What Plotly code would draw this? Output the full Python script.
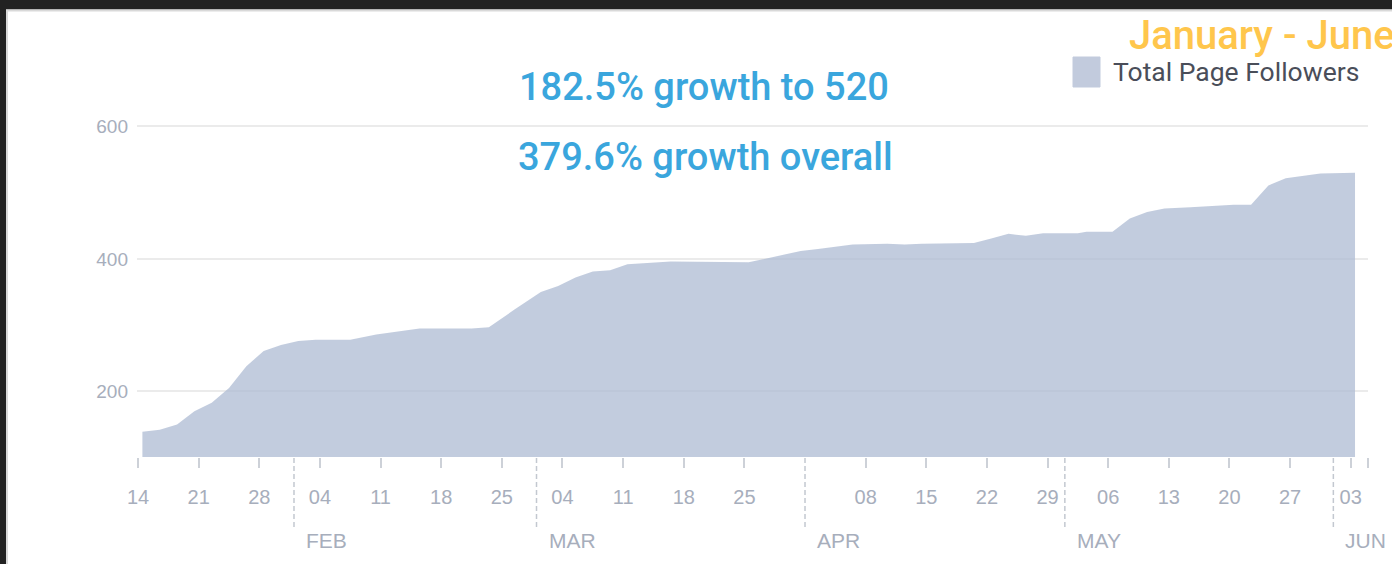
import pandas as pd
import plotly.graph_objects as go

# ---------------- data ----------------
dates = [
    "2018-01-14", "2018-01-16", "2018-01-18", "2018-01-20", "2018-01-22", "2018-01-24",
    "2018-01-26", "2018-01-28", "2018-01-30", "2018-02-01", "2018-02-03", "2018-02-07",
    "2018-02-10", "2018-02-13", "2018-02-15", "2018-02-21", "2018-02-23", "2018-02-26",
    "2018-03-01", "2018-03-03", "2018-03-05", "2018-03-07", "2018-03-09", "2018-03-11",
    "2018-03-14", "2018-03-16", "2018-03-25", "2018-03-28", "2018-03-31", "2018-04-02",
    "2018-04-04", "2018-04-06", "2018-04-10", "2018-04-12", "2018-04-14", "2018-04-20",
    "2018-04-22", "2018-04-24", "2018-04-26", "2018-04-28", "2018-05-02", "2018-05-03",
    "2018-05-06", "2018-05-08", "2018-05-10", "2018-05-12", "2018-05-15", "2018-05-20",
    "2018-05-22", "2018-05-24", "2018-05-26", "2018-05-30", "2018-06-03",
]
followers = [
    139, 142, 150, 170, 183, 205,
    238, 261, 270, 276, 278, 278,
    286, 292, 295, 295, 297, 324,
    350, 359, 372, 381, 383, 392,
    395, 396, 395, 403, 412, 415,
    419, 422, 423, 422, 423, 424,
    431, 438, 435, 439, 439, 441,
    441, 461, 471, 476, 478, 482,
    482, 511, 522, 529, 530,
]
series_name = "Total Page Followers"

tick_dates = [
    "2018-01-14", "2018-01-21", "2018-01-28", "2018-02-04", "2018-02-11", "2018-02-18",
    "2018-02-25", "2018-03-04", "2018-03-11", "2018-03-18", "2018-03-25", "2018-04-08",
    "2018-04-15", "2018-04-22", "2018-04-29", "2018-05-06", "2018-05-13", "2018-05-20",
    "2018-05-27", "2018-06-03", "2018-06-05",
]
tick_labels = [
    "14", "21", "28", "04", "11", "18",
    "25", "04", "11", "18", "25", "08",
    "15", "22", "29", "06", "13", "20",
    "27", "03", "",
]
month_starts = ["2018-02-01", "2018-03-01", "2018-04-01", "2018-05-01", "2018-06-01"]
month_labels = ["FEB", "MAR", "APR", "MAY", "JUN"]
y_ticks = [200, 400, 600]

headline_1 = "182.5% growth to 520"
headline_2 = "379.6% growth overall"
period_label = "January - June"

# ---------------- layout geometry (pixels) ----------------
W, H = 1392, 564
L, R, T, B = 137, 1368, 100, 457


def xp(px):
    return (px - L) / (R - L)


def yp(py):
    return (B - py) / (B - T)


AXIS_GREY = "#a7aebc"
FILL = "rgba(174,187,211,0.75)"

x_vals = pd.to_datetime(dates) + pd.Timedelta(hours=12)

fig = go.Figure()
fig.add_trace(go.Scatter(
    x=x_vals, y=followers, name=series_name,
    mode="lines", line=dict(width=0, color="#c2cbdd"),
    fill="tozeroy", fillcolor=FILL, showlegend=False,
))

shapes = []
annotations = []

# page frame: dark band top & left, with thin light edge
shapes.append(dict(type="rect", xref="paper", yref="paper",
                   x0=xp(0), x1=xp(W), y0=yp(0), y1=yp(9.5),
                   fillcolor="#222222", line=dict(width=0), layer="above"))
shapes.append(dict(type="rect", xref="paper", yref="paper",
                   x0=xp(0), x1=xp(6), y0=yp(0), y1=yp(H),
                   fillcolor="#222222", line=dict(width=0), layer="above"))
shapes.append(dict(type="line", xref="paper", yref="paper",
                   x0=xp(6), x1=xp(W), y0=yp(10.5), y1=yp(10.5),
                   line=dict(color="#d9d9d9", width=2), layer="above"))
shapes.append(dict(type="line", xref="paper", yref="paper",
                   x0=xp(7), x1=xp(7), y0=yp(10), y1=yp(H),
                   line=dict(color="#d9d9d9", width=2), layer="above"))

# month separators and labels
for d, lab in zip(month_starts, month_labels):
    shapes.append(dict(type="line", xref="x", yref="paper",
                       x0=d, x1=d, y0=yp(527), y1=yp(458),
                       line=dict(color="#c3c8d0", width=1.5, dash="5px,3px")))
    annotations.append(dict(xref="x", yref="paper", x=d, y=yp(540),
                            text=lab, showarrow=False, xanchor="left", yanchor="middle",
                            xshift=10,
                            font=dict(family="Liberation Sans, Arial", size=21, color=AXIS_GREY)))

# legend (swatch + label)
shapes.append(dict(type="rect", xref="paper", yref="paper",
                   x0=xp(1073), x1=xp(1100), y0=yp(87), y1=yp(57),
                   fillcolor="#c2cbdd", line=dict(color="#c2cbdd", width=1)))
annotations.append(dict(xref="paper", yref="paper", x=xp(1111), y=yp(71),
                        text=series_name, showarrow=False, xanchor="left", yanchor="middle",
                        font=dict(family="Roboto", size=26.5, color="#4a4e59")))

# headlines
annotations.append(dict(xref="paper", yref="paper", x=xp(517), y=yp(87),
                        text=headline_1, showarrow=False, xanchor="left", yanchor="middle",
                        font=dict(family="Roboto", size=38, color="#3aa6dd", weight=500)))
annotations.append(dict(xref="paper", yref="paper", x=xp(516), y=yp(157),
                        text=headline_2, showarrow=False, xanchor="left", yanchor="middle",
                        font=dict(family="Roboto", size=38, color="#3aa6dd", weight=500)))
annotations.append(dict(xref="paper", yref="paper", x=xp(1127), y=yp(36),
                        text=period_label, showarrow=False, xanchor="left", yanchor="middle",
                        font=dict(family="Roboto", size=40, color="#ffc64c", weight=500)))

fig.update_layout(
    width=W, height=H,
    margin=dict(l=L, r=W - R, t=T, b=H - B, pad=0),
    paper_bgcolor="white", plot_bgcolor="white",
    shapes=shapes, annotations=annotations,
    showlegend=False,
    xaxis=dict(
        type="date",
        range=["2018-01-13 21:00", "2018-06-05 00:00"],
        tickmode="array", tickvals=tick_dates, ticktext=tick_labels,
        ticks="outside", ticklen=10, tickwidth=1.5, tickcolor="#cdd1d8",
        showgrid=False, showline=False, zeroline=False,
        tickfont=dict(family="Liberation Sans, Arial", size=20, color=AXIS_GREY),
        ticklabelstandoff=12,
    ),
    yaxis=dict(
        range=[101, 640],
        tickmode="array", tickvals=y_ticks,
        showgrid=True, gridcolor="#ebebeb", gridwidth=1.5,
        showline=False, zeroline=False, ticks="",
        tickfont=dict(family="Liberation Sans, Arial", size=19, color=AXIS_GREY),
        ticklabelstandoff=8,
    ),
)

fig.write_html(
    "out.html",
    config={"displayModeBar": False},
    post_script="document.body.style.margin='0';document.body.style.overflow='hidden';",
)
